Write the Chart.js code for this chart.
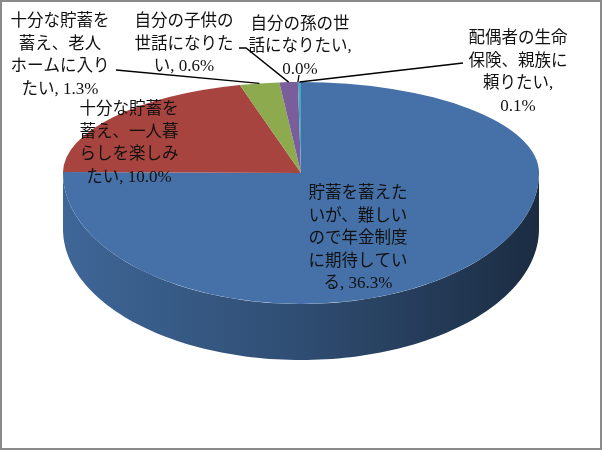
<!DOCTYPE html>
<html>
<head>
<meta charset="utf-8">
<script src="https://cdn.jsdelivr.net/npm/chart.js@4/dist/chart.umd.min.js"></script>
<style>
  html, body { margin: 0; padding: 0; background: #fff; }
  #wrap { position: relative; width: 602px; height: 450px; }
  #frame { position: absolute; left: 0; top: 0; width: 602px; height: 450px;
           box-sizing: border-box; border: 2px solid #8a8a8a; pointer-events: none; }
  canvas { display: block; }
</style>
</head>
<body>
<div id="wrap">
  <canvas id="chart" width="602" height="450"></canvas>
  <div id="frame"></div>
</div>
<script>
// Answer categories (line breaks mark where each data label wraps)
const categories = [
  '貯蓄を蓄えた\nいが、難しい\nので年金制度\nに期待してい\nる',
  '十分な貯蓄を\n蓄え、一人暮\nらしを楽しみ\nたい',
  '十分な貯蓄を\n蓄え、老人\nホームに入り\nたい',
  '自分の子供の\n世話になりた\nい',
  '自分の孫の世\n話になりたい',
  '配偶者の生命\n保険、親族に\n頼りたい'
];
// Share of respondents (%)
const shares = [36.3, 10.0, 1.3, 0.6, 0.0, 0.1];
// Slice fill colours
const sliceColors = ['#4571A8', '#A8443F', '#8DAA4F', '#7A5E9C', '#4AA6BF', '#4AA6BF'];

// Tilted-disc geometry (pixels): half-widths of the projected top face and thickness
const DISC = { rx: 238, ryFar: 91, ryNear: 131, depth: 56 };

// Data label placement: centre of first line, optional leader-line start points
const LABEL_LAYOUT = [
  { x: 358, y: 192 },
  { x: 129, y: 108 },
  { x: 60,  y: 20,   leader: [[116, 70]] },
  { x: 184, y: 20,   leader: [[239, 48], [246, 48]] },
  { x: 300, y: 22.5, leader: [[299, 75]] },
  { x: 518, y: 37,   leader: [[463, 63]] }
];
const CJK_FONT = '16.5px "Noto Sans CJK JP", sans-serif';
const LATIN_FONT = '17px "Liberation Serif", serif';
const LINE_H = 22.5;
const isCJK = ch => /[\u3000-\u9fff\uff00-\uffef]/.test(ch);

function shade(hex, f) {
  const n = parseInt(hex.slice(1), 16);
  const r = (n >> 16) & 255, g = (n >> 8) & 255, b = n & 255;
  return `rgb(${Math.round(r * f)},${Math.round(g * f)},${Math.round(b * f)})`;
}

// split a line into runs of Japanese / Latin text
function runs(text) {
  const out = [];
  for (const ch of text) {
    const cjk = isCJK(ch);
    if (out.length && out[out.length - 1].cjk === cjk) out[out.length - 1].t += ch;
    else out.push({ t: ch, cjk });
  }
  return out;
}
function measureMixed(ctx, text) {
  return runs(text).reduce((w, r) => {
    ctx.font = r.cjk ? CJK_FONT : LATIN_FONT;
    return w + ctx.measureText(r.t).width;
  }, 0);
}
function drawMixed(ctx, text, cx, cy) {
  let x = cx - measureMixed(ctx, text) / 2;
  const base = cy + 6;
  runs(text).forEach(r => {
    ctx.font = r.cjk ? CJK_FONT : LATIN_FONT;
    ctx.fillText(r.t, x, base);
    x += ctx.measureText(r.t).width;
  });
}

function geometry(chart) {
  const meta = chart.getDatasetMeta(0);
  const a0 = meta.data[0];
  return { meta, cx: a0.x, cy: a0.y, R: a0.outerRadius };
}

// point on the rim of the tilted top face for a canvas angle
function rimPoint(g, ang) {
  const s = Math.sin(ang);
  return [g.cx + DISC.rx * Math.cos(ang), g.cy + (s < 0 ? DISC.ryFar : DISC.ryNear) * s];
}

const tiltedPie = {
  id: 'tiltedPie',
  beforeDatasetsDraw(chart) {
    const ctx = chart.ctx;
    const g = geometry(chart);
    const { meta, cx, cy, R } = g;

    // side wall of the near half of the disc
    meta.data.forEach((arc, i) => {
      const s = Math.max(arc.startAngle, 0);
      const e = Math.min(arc.endAngle, Math.PI);
      if (e <= s) return;
      const col = sliceColors[i];
      const grad = ctx.createLinearGradient(cx - DISC.rx, 0, cx + DISC.rx, 0);
      grad.addColorStop(0, shade(col, 0.9));
      grad.addColorStop(0.5, shade(col, 0.68));
      grad.addColorStop(1, shade(col, 0.39));
      const steps = 120;
      ctx.beginPath();
      for (let k = 0; k <= steps; k++) {
        const t = s + (e - s) * k / steps;
        ctx.lineTo(cx + DISC.rx * Math.cos(t), cy + DISC.ryNear * Math.sin(t));
      }
      for (let k = steps; k >= 0; k--) {
        const t = s + (e - s) * k / steps;
        ctx.lineTo(cx + DISC.rx * Math.cos(t), cy + DISC.ryNear * Math.sin(t) + DISC.depth);
      }
      ctx.closePath();
      ctx.fillStyle = grad;
      ctx.fill();
    });

    // top face: far half and near half foreshortened differently
    const kx = DISC.rx / R;
    [[0, cy + 1, DISC.ryFar], [cy, chart.height - cy, DISC.ryNear]].forEach(([top, h, ry]) => {
      ctx.save();
      ctx.beginPath();
      ctx.rect(0, top, chart.width, h);
      ctx.clip();
      ctx.translate(cx, cy);
      ctx.scale(kx, ry / R);
      ctx.translate(-cx, -cy);
      meta.controller.draw();
      ctx.restore();
    });
    return false;
  },
  afterDraw(chart) {
    const ctx = chart.ctx;
    const g = geometry(chart);
    ctx.save();
    ctx.textAlign = 'left';
    ctx.textBaseline = 'alphabetic';
    const maxW = measureMixed(ctx, '十分な貯蓄を') + 2;

    g.meta.data.forEach((arc, i) => {
      const lay = LABEL_LAYOUT[i];
      // leader line
      if (lay.leader) {
        const mid = (arc.startAngle + arc.endAngle) / 2;
        const end = rimPoint(g, mid);
        ctx.beginPath();
        ctx.moveTo(lay.leader[0][0], lay.leader[0][1]);
        lay.leader.slice(1).forEach(p => ctx.lineTo(p[0], p[1]));
        ctx.lineTo(end[0], end[1]);
        ctx.strokeStyle = '#000';
        ctx.lineWidth = 1.3;
        ctx.stroke();
      }
      // label text: category, value
      const lines = categories[i].split('\n');
      const val = shares[i].toFixed(1) + '%';
      const last = lines[lines.length - 1];
      if (measureMixed(ctx, last + ', ' + val) > maxW) {
        lines[lines.length - 1] = last + ',';
        lines.push(val);
      } else {
        lines[lines.length - 1] = last + ', ' + val;
      }
      ctx.fillStyle = '#111';
      lines.forEach((ln, k) => drawMixed(ctx, ln, lay.x, lay.y + k * LINE_H));
    });
    ctx.restore();
  }
};

new Chart(document.getElementById('chart'), {
  type: 'pie',
  data: {
    labels: categories.map(c => c.replace(/\n/g, '')),
    datasets: [{
      data: shares,
      backgroundColor: sliceColors,
      borderWidth: 0
    }]
  },
  options: {
    responsive: false,
    animation: false,
    events: [],
    layout: { padding: { top: 0, bottom: 104, left: 0, right: 0 } },
    plugins: {
      legend: { display: false },
      tooltip: { enabled: false }
    }
  },
  plugins: [tiltedPie]
});
</script>
</body>
</html>
